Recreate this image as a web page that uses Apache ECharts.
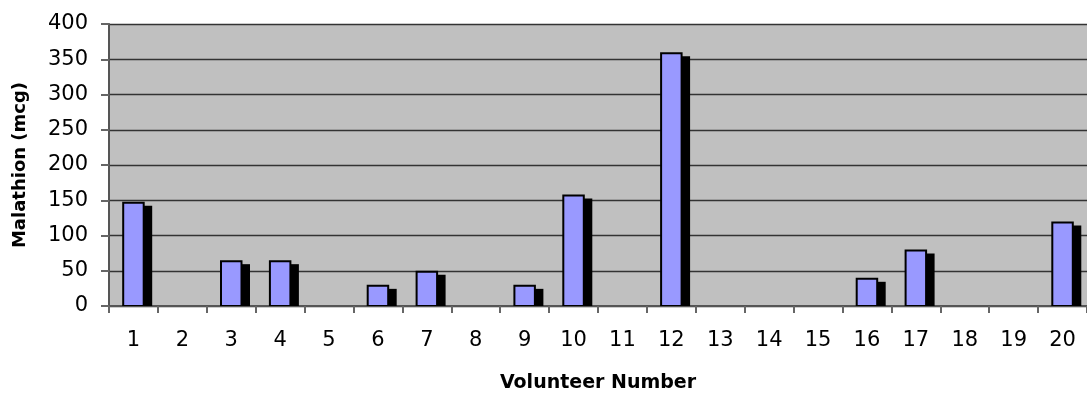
<!DOCTYPE html>
<html>
<head>
<meta charset="utf-8">
<title>Malathion by Volunteer</title>
<script src="https://cdn.jsdelivr.net/npm/echarts@6/dist/echarts.min.js"></script>
<style>
  html, body { margin: 0; padding: 0; background: #ffffff; }
  #chart { width: 1087px; height: 399px; }
</style>
</head>
<body>
<div id="chart"></div>
<script>
// Volunteer numbers along the category axis
const volunteers = ['1', '2', '3', '4', '5', '6', '7', '8', '9', '10',
                    '11', '12', '13', '14', '15', '16', '17', '18', '19', '20'];
// Malathion amount measured per volunteer (mcg)
const malathion = [148, 0, 65, 65, 0, 30, 50, 0, 30, 158,
                   0, 360, 0, 0, 0, 40, 80, 0, 0, 120];

const FONT = 'DejaVu Sans';
const chart = echarts.init(document.getElementById('chart'), null, { renderer: 'canvas' });

// Bar with a solid drop shadow to the lower right, clipped at the baseline
function renderBar(params, api) {
  const idx = api.value(0);
  const val = api.value(1);
  if (!(val > 0)) return null;
  const top = api.coord([idx, val]);
  const base = api.coord([idx, 0]);
  const band = api.size([1, 0])[0];
  const w = band * 0.46;
  const x0 = top[0] - w / 2;
  const sx = 7.5, sy = 4;
  return {
    type: 'group',
    children: [
      {
        type: 'rect',
        shape: { x: x0 + sx, y: top[1] + sy, width: w, height: base[1] - top[1] - sy },
        style: { fill: '#000000' }
      },
      {
        type: 'rect',
        shape: { x: x0 + 1, y: top[1] + 1, width: w - 2, height: base[1] - top[1] - 1 },
        style: { fill: '#9999FF', stroke: '#000000', lineWidth: 2 }
      }
    ]
  };
}

chart.setOption({
  animation: false,
  backgroundColor: '#ffffff',
  textStyle: { fontFamily: FONT },
  grid: {
    left: 109, right: 0, top: 24, bottom: 93,
    show: true, backgroundColor: '#C0C0C0', borderWidth: 0
  },
  xAxis: {
    type: 'category',
    data: volunteers,
    boundaryGap: true,
    name: 'Volunteer Number',
    nameLocation: 'middle',
    nameGap: 68,
    nameTextStyle: { fontFamily: FONT, fontSize: 19, fontWeight: 'bold', color: '#000' },
    axisLine: { show: true, lineStyle: { color: '#555555', width: 2 } },
    axisTick: { show: true, length: 7, alignWithLabel: false, lineStyle: { color: '#666666', width: 2 } },
    axisLabel: { fontFamily: FONT, fontSize: 21, color: '#000', margin: 24, interval: 0 },
    splitLine: { show: false }
  },
  yAxis: {
    type: 'value',
    min: 0, max: 400, interval: 50,
    name: 'Malathion (mcg)',
    nameLocation: 'middle',
    nameGap: 80,
    nameRotate: 90,
    nameTextStyle: { fontFamily: FONT, fontSize: 18, fontWeight: 'bold', color: '#000' },
    axisLine: { show: true, lineStyle: { color: '#555555', width: 2 } },
    axisTick: { show: true, length: 8, lineStyle: { color: '#666666', width: 2 } },
    axisLabel: { fontFamily: FONT, fontSize: 21, color: '#000', margin: 21 },
    splitLine: { show: true, lineStyle: { color: '#333333', width: 1.3 } }
  },
  series: [{
    type: 'custom',
    clip: true,
    renderItem: renderBar,
    encode: { x: 0, y: 1 },
    data: malathion.map((v, i) => [i, v])
  }]
});
</script>
</body>
</html>
